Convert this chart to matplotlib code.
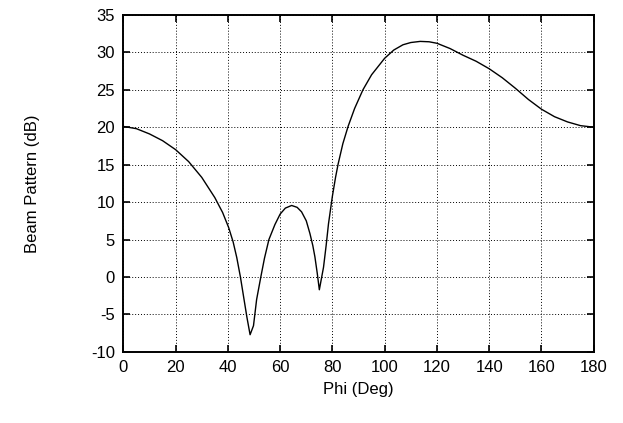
import matplotlib.pyplot as plt

plt.rcParams['font.family'] = ['Liberation Sans', 'DejaVu Sans']
plt.rcParams['axes.unicode_minus'] = False

# Valores
phi = [0, 5, 10, 15, 20, 25, 30, 35, 38, 40.3, 42, 43.4,
       44.8, 46, 47.3, 48.5, 49.8, 51, 52.6, 54, 55.7, 58, 60, 62, 64.4, 66.5,
       68.2, 70, 71.4, 72.5, 73.3, 74.2, 75, 75.8, 76.6, 77.6, 78.5, 80, 81.2,
       82.2, 84, 86, 88.5, 91.7, 95, 100, 103.5, 107, 110, 113.6, 117, 120,
       125, 130, 135, 140, 145, 150, 155, 160, 165, 170, 175, 180]
beam = [20.1, 19.8, 19.1, 18.2, 17.0, 15.4, 13.3, 10.6, 8.6, 6.6, 4.7, 2.6,
        0.0, -2.6, -5.4, -7.7, -6.5, -3.0, 0.0, 2.5, 5.0, 7.0,
        8.4, 9.2, 9.55, 9.3, 8.7, 7.5, 5.8, 4.2, 2.7, 0.5, -1.7, -0.2, 1.3, 4.2,
        7.1, 10.8, 13.3, 15.1, 17.8, 20.1, 22.5, 25.0, 27.0, 29.2, 30.3, 31.0,
        31.3, 31.45, 31.4, 31.2, 30.5, 29.6, 28.8, 27.8, 26.6, 25.2, 23.7, 22.4,
        21.4, 20.7, 20.2, 20.0]

xticks = list(range(0, 181, 20))
yticks = list(range(-10, 36, 5))

fig = plt.figure(figsize=(6.23, 4.23), dpi=100)
ax = fig.add_axes([0.198, 0.168, 0.755, 0.797])

ax.plot(phi, beam, color='black', linewidth=1.0)

ax.set_xlim(0, 180)
ax.set_ylim(-10, 35)
ax.set_xticks(xticks)
ax.set_yticks(yticks)
ax.grid(True, linestyle=(0, (1, 2)), color='black', linewidth=0.7)
ax.tick_params(direction='in', length=5, width=1.2, top=True, right=True,
               labelsize=12, pad=6)
for s in ax.spines.values():
    s.set_linewidth(1.4)

ax.set_xlabel("Phi (Deg)", fontsize=12, labelpad=5)
ax.set_ylabel("Beam Pattern (dB)", fontsize=12, labelpad=37)

fig.savefig('out.png', dpi=100)
